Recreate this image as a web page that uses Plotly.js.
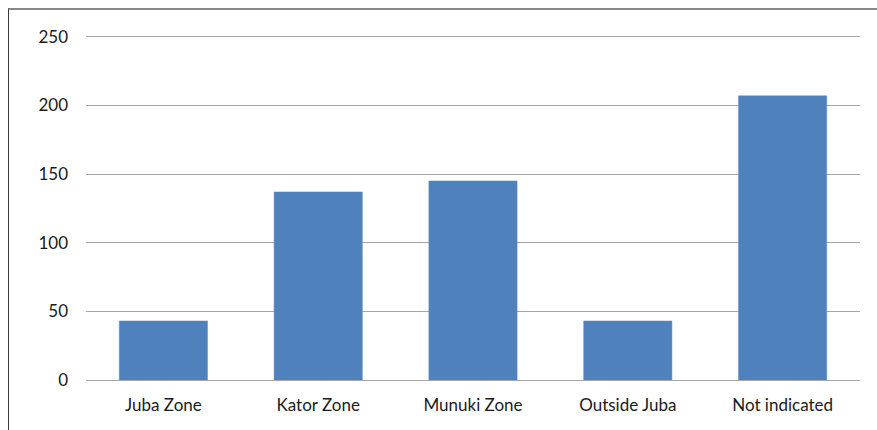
<!DOCTYPE html>
<html>
<head>
<meta charset="utf-8">
<script src="https://cdn.plot.ly/plotly-3.0.1.min.js"></script>
<style>
html,body{margin:0;padding:0;background:#fff;}
#wrap{position:relative;width:877px;height:430px;overflow:hidden;}
#chart{position:absolute;left:0;top:0;width:877px;height:430px;}
#frame{position:absolute;left:8px;top:8px;width:900px;height:450px;border-top:2px solid #878787;border-left:1px solid #3a3a3a;pointer-events:none;}
</style>
</head>
<body>
<div id="wrap"><div id="chart"></div><div id="frame"></div></div>
<script>
const categories = ["Juba Zone", "Kator Zone", "Munuki Zone", "Outside Juba", "Not indicated"];
const values = [43, 137, 145, 43, 207];
const yTicks = [0, 50, 100, 150, 200, 250];

const trace = {
  type: "bar",
  x: categories,
  y: values,
  marker: {color: "#4F81BD", line: {color: "#5B8CC6", width: 0.5}},
  hoverinfo: "x+y"
};

const layout = {
  width: 877,
  height: 430,
  margin: {l: 86, r: 17, t: 34, b: 50},
  paper_bgcolor: "#ffffff",
  plot_bgcolor: "#ffffff",
  bargap: 0.43,
  showlegend: false,
  font: {family: "Lato, 'Open Sans', sans-serif", size: 17, color: "#1a1a1a"},
  xaxis: {
    type: "category",
    showgrid: false,
    showline: false,
    zeroline: false,
    ticks: "",
    ticklabelstandoff: 13,
    tickfont: {size: 17}
  },
  yaxis: {
    range: [0, 252],
    tickvals: yTicks,
    ticktext: yTicks.map(String),
    showgrid: true,
    gridcolor: "#A6A6A6",
    gridwidth: 1,
    zeroline: true,
    zerolinecolor: "#A6A6A6",
    zerolinewidth: 1,
    showline: false,
    ticks: "",
    ticklabelstandoff: 17,
    tickfont: {size: 17}
  }
};

Plotly.newPlot("chart", [trace], layout, {displayModeBar: false, staticPlot: true});
</script>
</body>
</html>
